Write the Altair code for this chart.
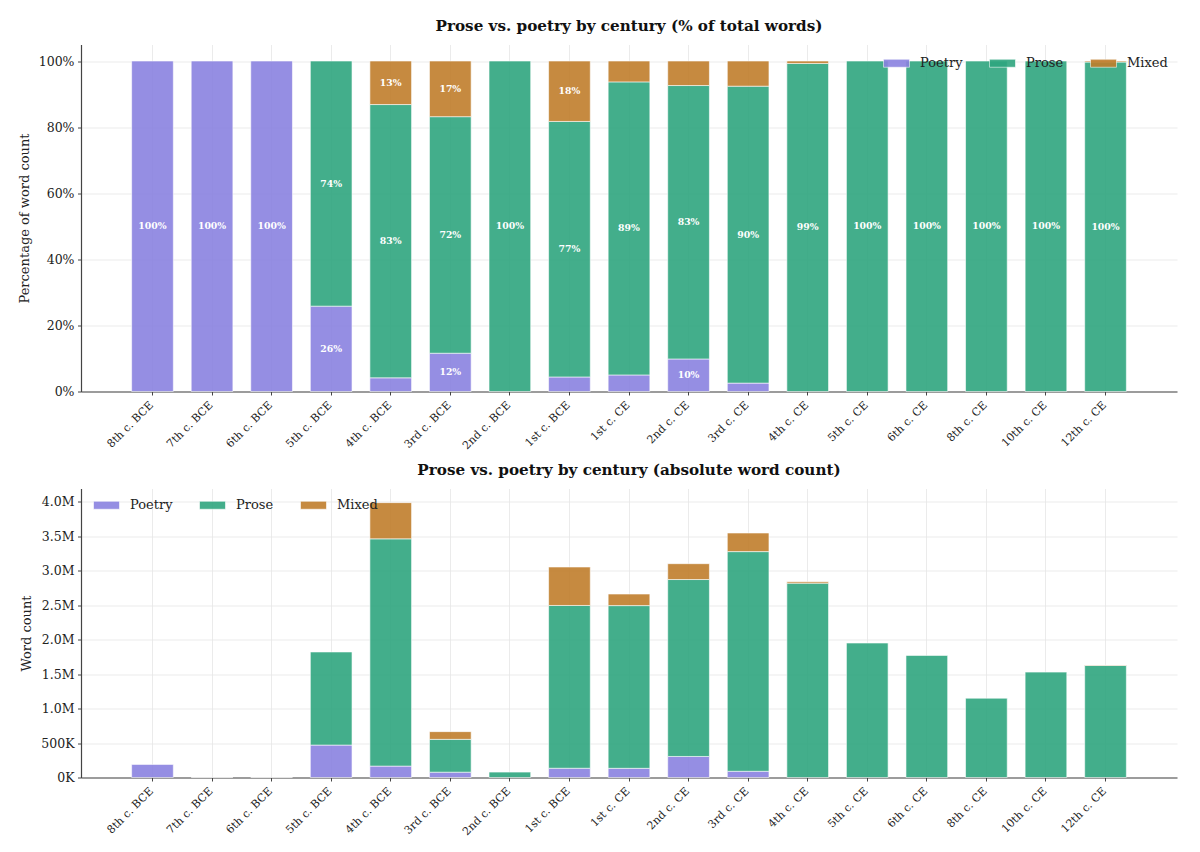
import altair as alt
import pandas as pd

centuries = ["8th c. BCE", "7th c. BCE", "6th c. BCE", "5th c. BCE", "4th c. BCE",
             "3rd c. BCE", "2nd c. BCE", "1st c. BCE", "1st c. CE", "2nd c. CE",
             "3rd c. CE", "4th c. CE", "5th c. CE", "6th c. CE", "8th c. CE",
             "10th c. CE", "12th c. CE"]
# word counts in thousands
poetry_k = [190, 1, 1, 470, 165, 77, 0, 134, 133, 305, 90, 0, 0, 0, 0, 0, 0]
prose_k = [0, 0, 0, 1350, 3295, 476, 78, 2360, 2359, 2565, 3185, 2818, 1950, 1770, 1150, 1528, 1625]
mixed_k = [0, 0, 0, 0, 525, 112, 0, 558, 168, 230, 270, 21, 0, 0, 0, 0, 5]
types = ["Poetry", "Prose", "Mixed"]
colors = ["#8a82e0", "#2fa67f", "#c07e2c"]

rows = []
for i, c in enumerate(centuries):
    for j, (t, vals) in enumerate(zip(types, [poetry_k, prose_k, mixed_k])):
        rows.append({"century": c, "type": t, "order": j, "words": vals[i] * 1000})
df = pd.DataFrame(rows)

FONT = "DejaVu Serif"
W = 1096
sym_path = "M-1.3,-0.4H1.3V0.4H-1.3Z"

color_scale = alt.Scale(domain=types, range=colors)

x_axis = alt.Axis(labelAngle=-45, labelAlign="right", labelBaseline="top",
                  labelFontSize=11, labelOffset=-5, labelPadding=4,
                  grid=True, bandPosition=0.5, tickSize=3.5)
x_enc = alt.X("century:N", sort=centuries, title=None,
              scale=alt.Scale(paddingInner=0.3, paddingOuter=0.85), axis=x_axis)


def legend(x, y):
    return alt.Legend(title=None, orient="none", direction="horizontal",
                      legendX=x, legendY=y, padding=0,
                      symbolType=sym_path, symbolSize=400,
                      symbolOpacity=0.9, symbolStrokeColor="white",
                      symbolStrokeWidth=0.6,
                      labelFontSize=13, labelOffset=13, columnPadding=25)


base = alt.Chart(df).transform_filter("datum.words > 0").transform_joinaggregate(
    total="sum(words)", groupby=["century"]
).transform_calculate(
    pct="datum.words / datum.total * 100"
)

# ---- top chart: percentages
pct_scale = alt.Scale(domain=[0, 105], nice=False)
top_bars = base.mark_bar(opacity=0.9, stroke="white", strokeWidth=0.6).encode(
    x=x_enc,
    y=alt.Y("pct:Q", stack="zero", scale=pct_scale,
            axis=alt.Axis(values=[0, 20, 40, 60, 80, 100], labelExpr="datum.value + '%'",
                          title="Percentage of word count")),
    color=alt.Color("type:N", scale=color_scale, sort=types, legend=legend(805, 8)),
    order=alt.Order("order:Q", sort="ascending"),
)
top_text = base.transform_stack(
    stack="pct", groupby=["century"], as_=["y0", "y1"],
    sort=[alt.SortField("order", order="ascending")]
).transform_calculate(
    mid="(datum.y0 + datum.y1) / 2",
    lab="format(datum.pct, '.0f') + '%'"
).transform_filter("datum.pct >= 8").mark_text(
    color="white", fontWeight="bold", fontSize=9.3, font=FONT
).encode(
    x=alt.X("century:N", sort=centuries),
    y=alt.Y("mid:Q", scale=pct_scale),
    text="lab:N",
)
top = alt.layer(top_bars, top_text).properties(
    width=W, height=347,
    title=alt.TitleParams("Prose vs. poetry by century (% of total words)", frame="group")
)

# ---- bottom chart: absolute counts
abs_scale = alt.Scale(domain=[0, 4190000], nice=False)
bottom = base.mark_bar(opacity=0.9, stroke="white", strokeWidth=0.6).encode(
    x=x_enc,
    y=alt.Y("words:Q", stack="zero", scale=abs_scale,
            axis=alt.Axis(values=[0, 500000, 1000000, 1500000, 2000000, 2500000,
                                  3000000, 3500000, 4000000],
                          labelExpr="datum.value < 1000000 ? format(datum.value / 1000, '.0f') + 'K' : format(datum.value / 1000000, '.1f') + 'M'",
                          title="Word count")),
    color=alt.Color("type:N", scale=color_scale, sort=types, legend=legend(15, 6)),
    order=alt.Order("order:Q", sort="ascending"),
).properties(
    width=W, height=289,
    title=alt.TitleParams("Prose vs. poetry by century (absolute word count)", frame="group")
)

chart = alt.vconcat(top, bottom, spacing=11).resolve_legend(
    color="independent"
).resolve_scale(color="shared").properties(
    padding={"left": 10, "top": 10.5, "right": 5, "bottom": 5}
).configure(
    font=FONT,
).configure_view(
    stroke=None
).configure_axis(
    labelFont=FONT, titleFont=FONT, labelFontSize=12.5, titleFontSize=13,
    titleFontWeight="normal", labelColor="#222", titleColor="#222",
    domainColor="#444", domainWidth=1.2, tickColor="#444", tickWidth=1, tickSize=3.5,
    labelPadding=3.5, titlePadding=7,
    gridColor="#e6e6e6", gridWidth=0.8,
).configure_axisY(
    grid=True
).configure_title(
    font=FONT, fontSize=15.2, fontWeight="bold", color="#111", offset=10
).configure_legend(
    labelFont=FONT, labelColor="#222"
)

chart.save("out.html", embed_options={"renderer": "svg", "actions": False})
